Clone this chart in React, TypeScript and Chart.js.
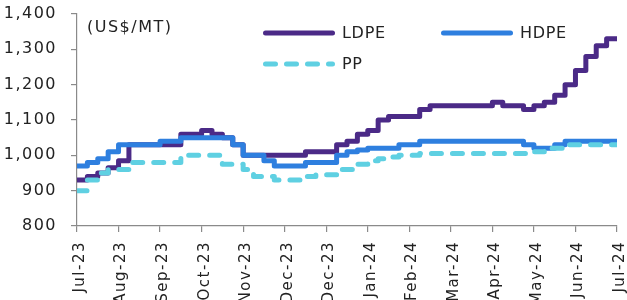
import React, { useEffect, useRef } from 'react';
import { Chart, registerables } from 'chart.js';

Chart.register(...registerables);

// ---- data ----
const tickLabels = ['Jul-23', 'Aug-23', 'Sep-23', 'Oct-23', 'Nov-23', 'Dec-23', 'Dec-23', 'Jan-24', 'Feb-24', 'Mar-24', 'Apr-24', 'May-24', 'Jun-24', 'Jul-24'];
const weeksPerTick = 4;
const unitLabel = '(US$/MT)';
const seriesNames = ['LDPE', 'HDPE', 'PP'];

const ldpe = [
  930, 940, 950, 965, 985, 1030, 1030, 1030, 1030, 1030,
  1060, 1060, 1070, 1060, 1050, 1030, 1000, 1000, 1000, 1000,
  1000, 1000, 1010, 1010, 1010, 1030, 1040, 1060, 1070, 1100,
  1110, 1110, 1110, 1130, 1140, 1140, 1140, 1140, 1140, 1140,
  1150, 1140, 1140, 1130, 1140, 1150, 1170, 1200, 1240, 1280,
  1310, 1330, 1330,
];
const hdpe = [
  970, 980, 990, 1010, 1030, 1030, 1030, 1030, 1040, 1040,
  1050, 1050, 1050, 1050, 1050, 1030, 1000, 1000, 985, 970,
  970, 970, 980, 980, 980, 1000, 1010, 1015, 1020, 1020,
  1020, 1030, 1030, 1040, 1040, 1040, 1040, 1040, 1040, 1040,
  1040, 1040, 1040, 1030, 1020, 1020, 1030, 1040, 1040, 1040,
  1040, 1040, 1040,
];
const pp = [
  900, 930, 950, 960, 960, 980, 980, 980, 980, 980,
  1000, 1000, 1000, 1000, 975, 975, 960, 940, 940, 930,
  930, 930, 940, 945, 945, 960, 960, 975, 985, 990,
  995, 1000, 1000, 1005, 1005, 1005, 1005, 1005, 1005, 1005,
  1005, 1005, 1005, 1005, 1010, 1020, 1020, 1030, 1030, 1030,
  1030, 1030, 1030,
];

const yMin = 800;
const yMax = 1400;
const yStep = 100;

const colors = ['#4b2a87', '#2e7fdf', '#5fd0e2'];
const FONT = '"DejaVu Sans", sans-serif';

const toPoints = (arr: number[]) => arr.map((v, i) => ({ x: i, y: v }));

const overlayPlugin = {
  id: 'overlay',
  afterDraw(chart: any) {
    const { ctx, chartArea } = chart;
    ctx.save();
    // unit label
    ctx.letterSpacing = '1.5px';
    ctx.font = `16px ${FONT}`;
    ctx.fillStyle = '#222';
    ctx.textAlign = 'left';
    ctx.textBaseline = 'middle';
    ctx.fillText(unitLabel, chartArea.left + 10, chartArea.top + 14);

    // legend
    const pos = [
      { x: chartArea.left + 186, y: chartArea.top + 19 },
      { x: chartArea.left + 364, y: chartArea.top + 19 },
      { x: chartArea.left + 186, y: chartArea.top + 50 },
    ];
    chart.data.datasets.forEach((ds: any, i: number) => {
      const p = pos[i];
      ctx.save();
      ctx.strokeStyle = ds.borderColor;
      ctx.lineWidth = 5;
      ctx.lineCap = 'round';
      ctx.setLineDash(ds.borderDash || []);
      ctx.beginPath();
      ctx.moveTo(p.x + 2.5, p.y);
      ctx.lineTo(p.x + 69.5, p.y);
      ctx.stroke();
      ctx.restore();
      ctx.letterSpacing = '0.7px';
      ctx.font = `16px ${FONT}`;
      ctx.fillStyle = '#222';
      ctx.fillText(ds.label, p.x + 79, p.y + 1);
    });
    ctx.restore();
  },
};

const spacingPlugin = {
  id: 'spacing',
  beforeDraw(chart: any) {
    chart.ctx.letterSpacing = '1.5px';
  },
};

const CANVAS_W = 627;
const CANVAS_H = 330;
const PLOT_LEFT = 77;
const PLOT_BOTTOM = 226;

export default function App() {
  const ref = useRef<HTMLCanvasElement | null>(null);

  useEffect(() => {
    if (!ref.current) return;
    const mk = (label: string, data: number[], i: number, extra: any = {}) => ({
      label,
      data: toPoints(data),
      borderColor: colors[i],
      backgroundColor: colors[i],
      borderWidth: 5,
      pointRadius: 0,
      stepped: true,
      borderJoinStyle: 'round',
      borderCapStyle: 'round',
      fill: false,
      ...extra,
    });
    const chart = new Chart(ref.current, {
      type: 'line',
      data: {
        datasets: [
          mk(seriesNames[0], ldpe, 0, { order: 3 }),
          mk(seriesNames[1], hdpe, 1, { order: 2 }),
          mk(seriesNames[2], pp, 2, { order: 1, borderDash: [10, 11] }),
        ],
      },
      options: {
        animation: false,
        responsive: false,
        devicePixelRatio: 1,
        layout: { padding: { left: 0, right: 10, top: 14, bottom: 0 } },
        plugins: { legend: { display: false }, tooltip: { enabled: false } },
        scales: {
          x: {
            type: 'linear',
            min: 0,
            max: (tickLabels.length - 1) * weeksPerTick,
            afterFit(scale: any) {
              scale.height = CANVAS_H - PLOT_BOTTOM;
              scale.paddingLeft = 0;
              scale.paddingRight = 0;
            },
            grid: { drawOnChartArea: false, color: '#8a8a8a', tickLength: 6, lineWidth: 1.2 },
            border: { color: '#8a8a8a', width: 1.2 },
            ticks: {
              stepSize: weeksPerTick,
              autoSkip: false,
              minRotation: 90,
              maxRotation: 90,
              padding: 9,
              labelOffset: 3,
              color: '#222',
              font: { family: FONT, size: 15 },
              callback: (v: any) => tickLabels[Math.round(Number(v) / weeksPerTick)] ?? '',
            },
          },
          y: {
            min: yMin,
            max: yMax,
            afterFit(scale: any) {
              scale.width = PLOT_LEFT;
              scale.paddingTop = 0;
              scale.paddingBottom = 0;
            },
            grid: { drawOnChartArea: false, color: '#8a8a8a', tickLength: 6, lineWidth: 1.2 },
            border: { color: '#8a8a8a', width: 1.2 },
            ticks: {
              stepSize: yStep,
              padding: 14,
              color: '#222',
              font: { family: FONT, size: 16 },
              callback: (v: any) => Number(v).toLocaleString('en-US'),
            },
          },
        },
      },
      plugins: [spacingPlugin, overlayPlugin],
    } as any);
    return () => chart.destroy();
  }, []);

  return (
    <div style={{ position: 'absolute', left: 0, top: 0, width: CANVAS_W, height: 300, overflow: 'hidden', background: '#fff' }}>
      <canvas ref={ref} width={CANVAS_W} height={CANVAS_H} style={{ display: 'block', width: CANVAS_W, height: CANVAS_H }} />
    </div>
  );
}
